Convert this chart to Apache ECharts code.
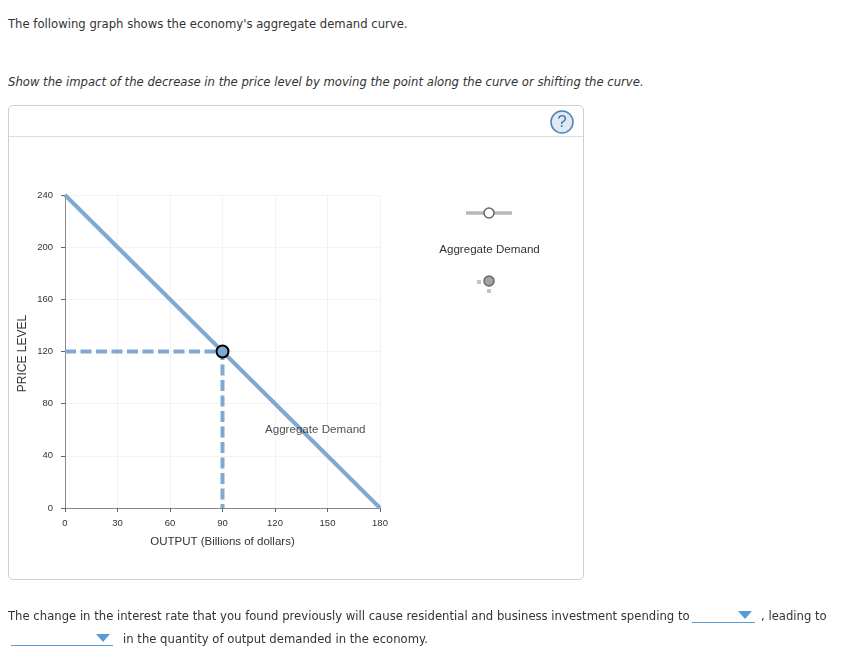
<!DOCTYPE html>
<html>
<head>
    <meta charset="utf-8">
    <title>Aggregate Demand</title>
    <style>
        html, body { margin: 0; padding: 0; background: #fff; overflow: hidden; }
        #page { position: relative; width: 866px; height: 665px; font-family: "DejaVu Sans", sans-serif; font-size: 11.65px; color: #333; }
        .prose { position: absolute; white-space: nowrap; line-height: 16px; }
        #panel { position: absolute; left: 8px; top: 105px; width: 574px; height: 473px; border: 1px solid #d0d0d0; border-radius: 5px; }
        #bar { position: absolute; left: 0; right: 0; top: 30px; border-top: 1px solid #dcdcdc; }
        #main { position: absolute; left: 0; top: 0; width: 866px; height: 665px; }
        .drop { position: absolute; height: 0; border-bottom: 1px solid #5b9bd5; }
        .arrow { position: absolute; width: 0; height: 0; border-left: 7px solid transparent; border-right: 7px solid transparent; border-top: 8px solid #5b9bd5; }
    </style>
</head>
<body>
<div id="page">
    <div class="prose" style="left:8px;top:16px">The following graph shows the economy's aggregate demand curve.</div>
    <div class="prose" style="left:8px;top:74px;font-style:italic">Show the impact of the decrease in the price level by moving the point along the curve or shifting the curve.</div>
    <div id="panel"><div id="bar"></div></div>
    <div id="main"></div>
    <div class="prose" style="left:8px;top:608px">The change in the interest rate that you found previously will cause residential and business investment spending to</div>
    <div class="drop" style="left:692px;top:622px;width:63px"></div>
    <div class="arrow" style="left:738px;top:611px"></div>
    <div class="prose" style="left:761px;top:608px">, leading to</div>
    <div class="drop" style="left:11px;top:645px;width:102px"></div>
    <div class="arrow" style="left:96px;top:634px"></div>
    <div class="prose" style="left:123px;top:631px">in the quantity of output demanded in the economy.</div>
</div>
<script src="https://cdn.jsdelivr.net/npm/echarts@6/dist/echarts.min.js"></script>
<script type="text/javascript">
    var xTicks = [0, 30, 60, 90, 120, 150, 180];
    var yTicks = [0, 40, 80, 120, 160, 200, 240];
    var demandX = [0, 180];
    var demandY = [240, 0];
    var guideX = [0, 90, 90];
    var guideY = [120, 120, 0];
    var pointX = [90];
    var pointY = [120];
    var labelX = [143];
    var labelY = [60];
    var curveName = 'Aggregate Demand';

    function pairs(xs, ys) {
        var out = [];
        for (var i = 0; i < xs.length; i++) {
            out.push([xs[i], ys[i]]);
        }
        return out;
    }

    var blue = '#80a9d2';
    var axisFont = 'Liberation Sans';
    var myChart = echarts.init(document.getElementById('main'));
    var option = {
        animation: false,
        textStyle: { fontFamily: axisFont },
        grid: { left: 65, top: 195, width: 315, height: 313, containLabel: false },
        xAxis: {
            type: 'value', min: xTicks[0], max: xTicks[xTicks.length - 1], interval: 30,
            name: 'OUTPUT (Billions of dollars)', nameLocation: 'middle', nameGap: 28,
            nameTextStyle: { fontSize: 11.5, color: '#333', fontFamily: axisFont },
            axisLine: { show: true, onZero: false, lineStyle: { color: '#8a8a8a', width: 1 } },
            axisTick: { show: true, length: 4, lineStyle: { color: '#666' } },
            axisLabel: { fontSize: 9.5, color: '#333', margin: 10, showMinLabel: true, showMaxLabel: true, hideOverlap: false },
            splitLine: { show: true, lineStyle: { color: '#f3f3f3' } }
        },
        yAxis: {
            type: 'value', min: yTicks[0], max: yTicks[yTicks.length - 1], interval: 40,
            name: 'PRICE LEVEL', nameLocation: 'middle', nameGap: 36, nameRotate: 90,
            nameTextStyle: { fontSize: 12, color: '#333', fontFamily: axisFont, padding: [0, 4, 0, 0] },
            axisLine: { show: true, onZero: false, lineStyle: { color: '#8a8a8a', width: 1 } },
            axisTick: { show: true, length: 4, lineStyle: { color: '#666' } },
            axisLabel: { fontSize: 9.5, color: '#333', margin: 12, showMinLabel: true, showMaxLabel: true, hideOverlap: false },
            splitLine: { show: true, lineStyle: { color: '#f3f3f3' } }
        },
        series: [
            {
                name: curveName, type: 'line', silent: true, clip: false, symbol: 'none', z: 2,
                lineStyle: { color: blue, width: 4 },
                data: pairs(demandX, demandY)
            },
            {
                name: 'guides', type: 'line', silent: true, clip: false, symbol: 'none', z: 2,
                lineStyle: { color: blue, width: 4, type: [11, 4.5] },
                data: pairs(guideX, guideY)
            },
            {
                name: 'point', type: 'scatter', silent: true, clip: false, symbolSize: 12, z: 5,
                itemStyle: { color: blue, borderColor: '#000', borderWidth: 2, opacity: 1 },
                data: pairs(pointX, pointY)
            },
            {
                name: 'label', type: 'scatter', silent: true, clip: false, symbolSize: 1, z: 6,
                itemStyle: { color: 'transparent' },
                label: { show: true, position: 'inside', formatter: curveName, fontSize: 11.6, color: '#222', fontFamily: axisFont },
                data: pairs(labelX, labelY)
            }
        ],
        graphic: [
            // help button, top right of the panel
            { type: 'circle', shape: { cx: 562, cy: 122, r: 11 }, style: { fill: '#dfe9f4', stroke: '#4f81b5', lineWidth: 1.5 } },
            { type: 'text', x: 562, y: 122, style: { text: '?', font: '17px "Liberation Sans"', fill: '#3f74ab', align: 'center', verticalAlign: 'middle' } },
            // palette: curve tool
            { type: 'line', shape: { x1: 466, y1: 213, x2: 512, y2: 213 }, style: { stroke: '#b8b8b8', lineWidth: 3.5 } },
            { type: 'circle', shape: { cx: 489, cy: 213, r: 5 }, style: { fill: '#fff', stroke: '#666', lineWidth: 1.5 } },
            { type: 'text', x: 489.5, y: 249.5, style: { text: curveName, font: '11.6px "Liberation Sans"', fill: '#333', align: 'center', verticalAlign: 'middle' } },
            // palette: point tool
            { type: 'rect', shape: { x: 477, y: 280, width: 4, height: 4 }, style: { fill: '#c4c4c4' } },
            { type: 'rect', shape: { x: 487, y: 289, width: 4, height: 4 }, style: { fill: '#c4c4c4' } },
            { type: 'circle', shape: { cx: 489, cy: 281, r: 5 }, style: { fill: '#a3a3a3', stroke: '#666', lineWidth: 1.5 } }
        ]
    };
    myChart.setOption(option);
</script>
</body>
</html>
